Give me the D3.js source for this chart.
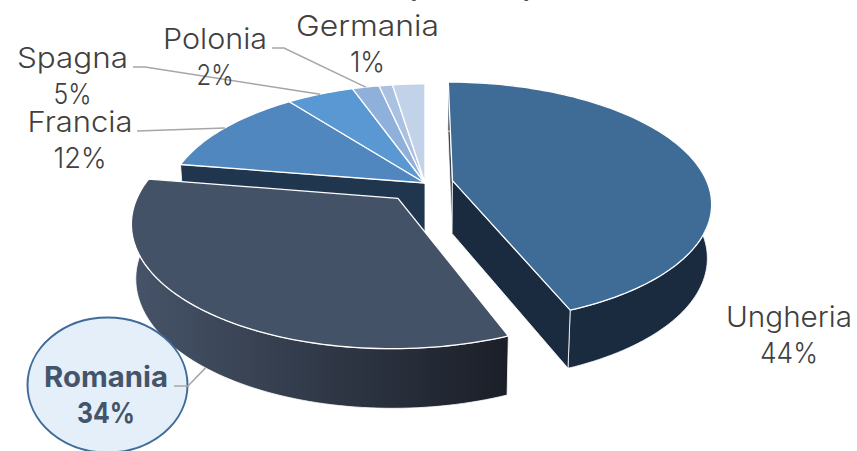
<!DOCTYPE html>
<html>
<head>
<meta charset="utf-8">
<script src="https://cdnjs.cloudflare.com/ajax/libs/d3/7.8.5/d3.min.js"></script>
<style>
body { margin: 0; background: #fff; }
text { font-family: Inter, Lato, sans-serif; }
</style>
</head>
<body>
<svg id="chart" width="857" height="451"></svg>
<script>
// data
var names = ["Ungheria", "Romania", "Francia", "Spagna", "Polonia", "Germania", "Altri"];
var values = [44, 33.6, 12, 5, 2, 1, 2.4];
var pctLabels = ["44%", "34%", "12%", "5%", "2%", "1%", ""];
var colors = ["#3f6c97", "#445268", "#5087bf", "#5a98d4", "#8eb0da", "#abc1e2", "#c2d2e8"];
var explode = [0.11, 0.165, 0, 0, 0, 0, 0];

// pie layout
var cx = 425, cy = 183;
var rx = 255, ry = 117, persp = 0.18, depth = 53;

var svg = d3.select("#chart");

var defs = svg.append("defs");
var grad = defs.append("linearGradient")
    .attr("id", "romaniaWall")
    .attr("gradientUnits", "userSpaceOnUse")
    .attr("x1", 135).attr("x2", 505).attr("y1", 0).attr("y2", 0);
grad.append("stop").attr("offset", "0%").attr("stop-color", "#465368");
grad.append("stop").attr("offset", "100%").attr("stop-color", "#1b1f28");

var pie = d3.pie().sort(null).value(function(d) { return d; });
var slices = pie(values);

// disc point -> screen, level 0 = top face, level 1 = bottom face
function project(X, Y, level) {
    var s = 1 / (1 - persp * Y);
    if (level) {
        return [cx + rx * 0.985 * X * s, cy + depth + ry * 1.04 * Y * s];
    }
    return [cx + rx * X * s, cy + ry * Y * s];
}

function offsetOf(i) {
    var a = (slices[i].startAngle + slices[i].endAngle) / 2;
    return [explode[i] * Math.sin(a), -explode[i] * Math.cos(a)];
}

function rimPoint(i, a, level) {
    var o = offsetOf(i);
    return project(o[0] + Math.sin(a), o[1] - Math.cos(a), level);
}

function apexPoint(i, level) {
    var o = offsetOf(i);
    return project(o[0], o[1], level);
}

function arcPoints(i, level) {
    var d = slices[i];
    var n = Math.max(4, Math.ceil((d.endAngle - d.startAngle) * 40));
    return d3.range(n + 1).map(function(k) {
        return rimPoint(i, d.startAngle + (d.endAngle - d.startAngle) * k / n, level);
    });
}

var line = d3.line().curve(d3.curveLinearClosed);

function radialWall(i, a, wallColor) {
    svg.append("path")
        .attr("d", line([apexPoint(i, 0), rimPoint(i, a, 0), rimPoint(i, a, 1), apexPoint(i, 1)]))
        .attr("fill", wallColor).attr("stroke", "#fff").attr("stroke-width", 0.8);
}

function outerWall(i, wallColor) {
    svg.append("path")
        .attr("d", line(arcPoints(i, 0).concat(arcPoints(i, 1).reverse())))
        .attr("fill", wallColor).attr("stroke", "#fff").attr("stroke-width", 0.8);
}

function topFace(i) {
    svg.append("path")
        .attr("d", line([apexPoint(i, 0)].concat(arcPoints(i, 0))))
        .attr("fill", colors[i]).attr("stroke", "#fff").attr("stroke-width", 1.3)
        .attr("stroke-linejoin", "round");
}

// back to front, only the walls that can be seen
radialWall(2, slices[2].startAngle, "#20364e");
[2, 3, 4, 5, 6].forEach(topFace);

radialWall(0, slices[0].startAngle, "#3a4350");
outerWall(0, "#1a2b3f");
radialWall(0, slices[0].endAngle, "#1a2b3f");
topFace(0);

outerWall(1, "url(#romaniaWall)");
topFace(1);

// title, cut by the top edge of the picture (only the brackets' tails show)
svg.append("text")
    .attr("x", 470).attr("y", -2)
    .attr("text-anchor", "middle")
    .attr("font-size", 24).attr("font-weight", 700)
    .attr("fill", "#44546a")
    .attr("textLength", 125)
    .text("(…)");

// leader lines and labels
var leaderColor = "#a6a6a6";
var leaderLine = d3.line();
function leader(from, elbow, to) {
    svg.append("path")
        .attr("d", leaderLine([from, elbow, to]))
        .attr("fill", "none")
        .attr("stroke", leaderColor).attr("stroke-width", 1.5);
}

function midAngle(i) { return (slices[i].startAngle + slices[i].endAngle) / 2; }

leader([133, 67], [145, 67], rimPoint(3, midAngle(3), 0));
leader([272, 48], [284, 48], rimPoint(4, midAngle(4), 0));
leader([137, 131], [137, 131], rimPoint(2, midAngle(2), 0));

// Romania callout
svg.append("ellipse")
    .attr("cx", 107.5).attr("cy", 385).attr("rx", 80).attr("ry", 67.5)
    .attr("fill", "#e4eff9").attr("stroke", "#3f6c9a").attr("stroke-width", 2);
leader([174, 386], [188, 386], rimPoint(1, midAngle(1), 1));

var labelPos = [
    {i: 0, x: 789, y: 327, w: 126, pw: 58},
    {i: 1, x: 106, y: 387, w: 124, pw: 58},
    {i: 2, x: 80, y: 132, w: 105, pw: 53},
    {i: 3, x: 72.5, y: 68, w: 111, pw: 38},
    {i: 4, x: 215, y: 49, w: 104, pw: 37},
    {i: 5, x: 367.5, y: 36, w: 143, pw: 35}
];
var lineGap = 36;

labelPos.forEach(function(p) {
    var bold = p.i === 1;
    var t = svg.append("text")
        .attr("text-anchor", "middle")
        .attr("font-size", 29)
        .attr("font-weight", bold ? 700 : 300)
        .attr("fill", bold ? "#44546a" : "#404040");
    t.append("tspan").attr("x", p.x).attr("y", p.y)
        .attr("textLength", p.w).attr("lengthAdjust", "spacingAndGlyphs")
        .text(names[p.i]);
    t.append("tspan").attr("x", p.x).attr("y", p.y + lineGap)
        .attr("textLength", p.pw).attr("lengthAdjust", "spacingAndGlyphs")
        .text(pctLabels[p.i]);
});
</script>
</body>
</html>
